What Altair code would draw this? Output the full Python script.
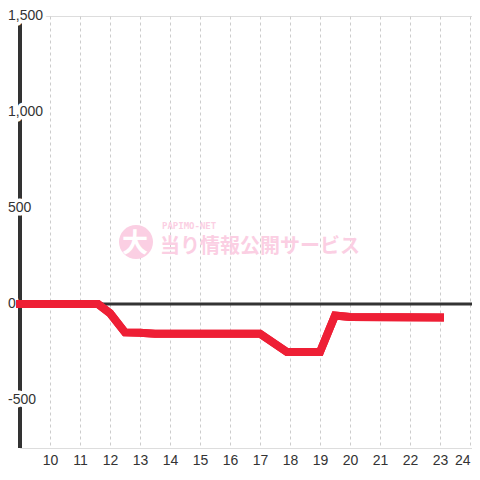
import altair as alt
import pandas as pd

# Series data (hour, value)
hours = [9.0, 11.6, 12.0, 12.5, 13.0, 13.5, 17.0, 17.9, 19.0, 19.5, 20.0, 23.0]
values = [0, 0, -48, -148, -150, -155, -155, -250, -250, -60, -68, -70]

x_ticks = list(range(10, 25))
y_grid = [-750, -500, -250, 0, 250, 500, 750, 1000, 1250, 1500]
y_label_vals = [1500, 1000, 500, 0, -500]
y_label_txt = ["1,500", "1,000", "500", "0", "-500"]

W, H = 452, 432
FONT = "Liberation Sans"

line_df = pd.DataFrame({"hour": hours, "value": values})
ylab_df = pd.DataFrame({"v": y_label_vals, "t": y_label_txt})

xscale = alt.Scale(domain=[9, 9 + W / 30], nice=False, zero=False)
yscale = alt.Scale(domain=[-750, 1500], nice=False)

base = alt.Chart(line_df)

yaxis_line = base.mark_rule(color="#333333", strokeWidth=3).encode(
    x=alt.value(0), y=alt.value(0), y2=alt.value(H)
)

zero_line = alt.Chart(pd.DataFrame({"z": [0]})).mark_rule(
    color="#333333", strokeWidth=3
).encode(y=alt.Y("z:Q", scale=yscale, axis=None), x=alt.value(0), x2=alt.value(W))

halo = alt.Chart(ylab_df).mark_text(
    align="left", baseline="middle", fontSize=14, font=FONT,
    stroke="white", strokeWidth=7, strokeJoin="round", fill="white"
).encode(y=alt.Y("v:Q", scale=yscale, axis=None), x=alt.value(-12), text="t:N")

ylabels = alt.Chart(ylab_df).mark_text(
    align="left", baseline="middle", fontSize=14, font=FONT, color="#333333"
).encode(y=alt.Y("v:Q", scale=yscale, axis=None), x=alt.value(-12), text="t:N")

# watermark
wm_circle = alt.Chart(pd.DataFrame({"a": [0]})).mark_point(
    shape="circle", filled=True, size=1156, color="#fbcfe3", opacity=1
).encode(x=alt.value(116), y=alt.value(226))
wm_dai = alt.Chart(pd.DataFrame({"t": ["大"]})).mark_text(
    font="Noto Sans CJK JP", fontWeight="bold", fontSize=26, color="white",
    align="center", baseline="middle"
).encode(x=alt.value(115), y=alt.value(228), text="t:N")
wm_small = alt.Chart(pd.DataFrame({"t": ["PAPIMO-NET"]})).mark_text(
    font="DejaVu Sans Mono", fontWeight="bold", fontSize=9, color="#fbcfe3",
    align="left", baseline="middle"
).encode(x=alt.value(142), y=alt.value(210), text="t:N")
wm_main = alt.Chart(pd.DataFrame({"t": ["当り情報公開サービス"]})).mark_text(
    font="Noto Sans CJK JP", fontWeight="bold", fontSize=20, color="#fbcfe3",
    align="left", baseline="middle"
).encode(x=alt.value(140), y=alt.value(231), text="t:N")

red = base.mark_line(color="#ee1f35", strokeWidth=8, strokeCap="square",
                     strokeJoin="miter").encode(
    x=alt.X("hour:Q", scale=xscale,
            axis=alt.Axis(values=x_ticks, title=None, grid=True, gridColor="#cccccc",
                          gridDash=[3, 3], gridWidth=1, domain=False, ticks=False,
                          labelFontSize=14, labelColor="#333333", labelFont=FONT,
                          labelPadding=5, labelFlush=5, labelOverlap=False)),
    y=alt.Y("value:Q", scale=yscale,
            axis=alt.Axis(values=y_grid, title=None, grid=True, gridColor="#cccccc",
                          gridWidth=1, domain=False, ticks=False, labels=False)),
)

chart = alt.layer(
    red, wm_circle, wm_dai, wm_small, wm_main, yaxis_line, zero_line, halo, ylabels, red
).properties(
    width=W, height=H,
    autosize=alt.AutoSizeParams(type="none"),
    padding={"left": 12, "top": 8, "right": 0, "bottom": 20},
).configure_view(stroke=None).configure(background="white")

chart.save("out.html", embed_options={"renderer": "svg", "actions": False})
